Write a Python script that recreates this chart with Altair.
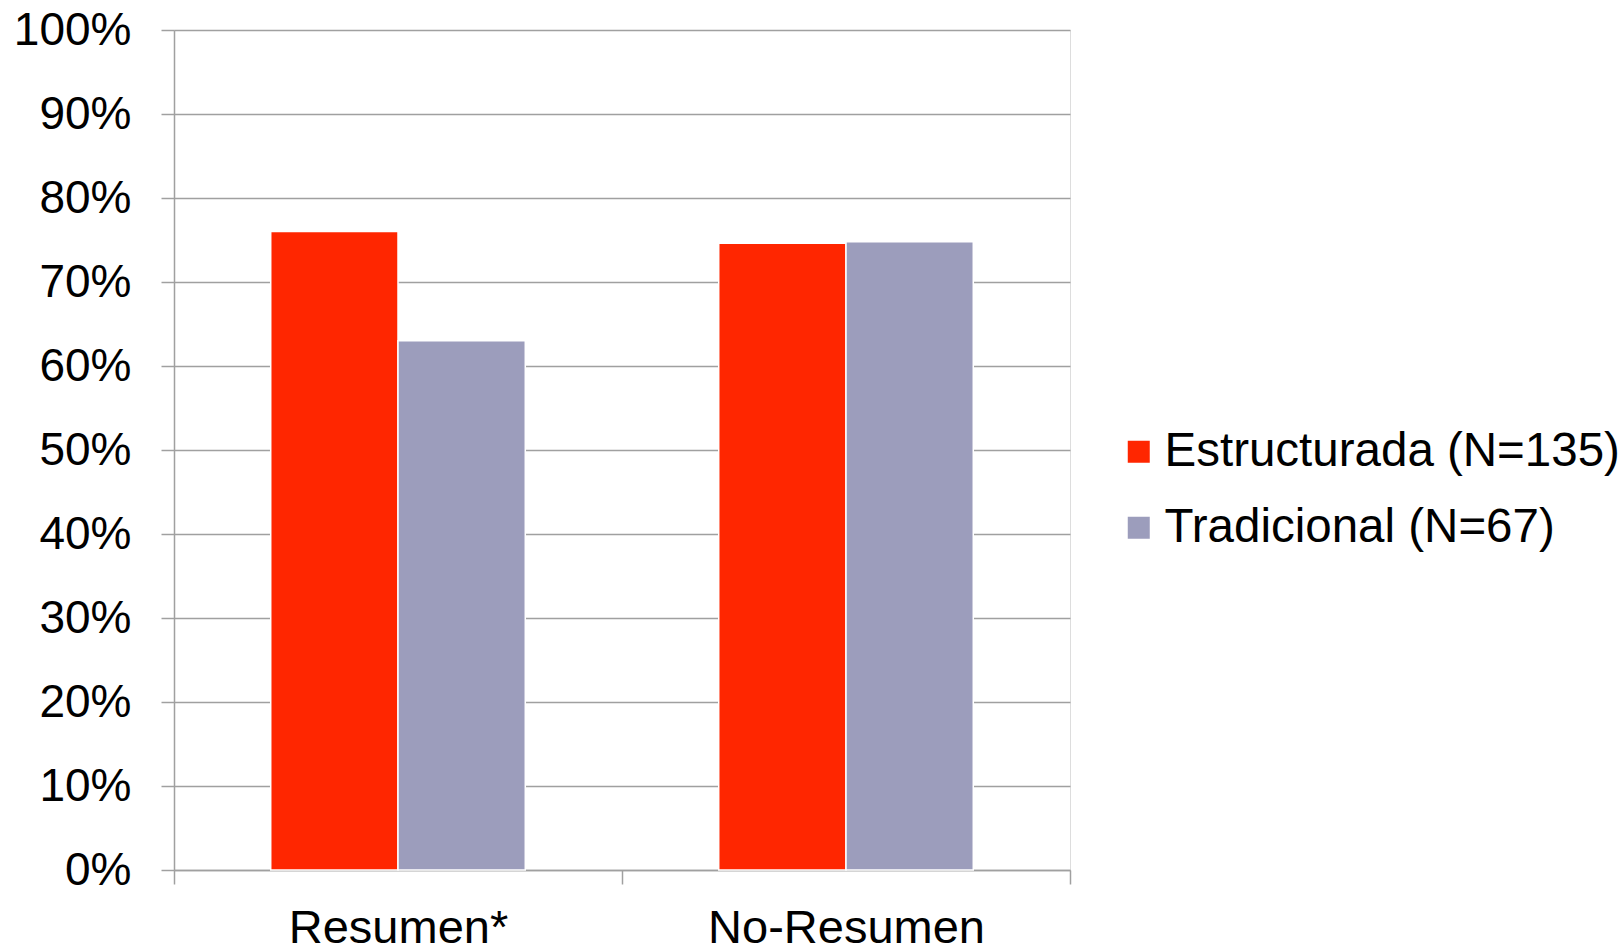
import altair as alt
import pandas as pd

categories = ["Resumen*", "No-Resumen"]
series = ["Estructurada (N=135)", "Tradicional (N=67)"]
estructurada = [0.76, 0.746]
tradicional = [0.63, 0.748]
colors = ["#ff2600", "#9c9dbc"]

rows = []
for i, c in enumerate(categories):
    rows.append({"cat": c, "serie": series[0], "val": estructurada[i]})
    rows.append({"cat": c, "serie": series[1], "val": tradicional[i]})
df = pd.DataFrame(rows)

FONT = "Liberation Sans"

chart = alt.Chart(df).mark_bar(stroke="white", strokeWidth=1.5).encode(
    x=alt.X("cat:N", sort=categories, title=None,
            scale=alt.Scale(paddingInner=0, paddingOuter=0),
            axis=alt.Axis(labelAngle=0, labelFontSize=47, labelFont=FONT, labelColor="black",
                          labelLimit=0,
                          tickBand="extent", tickSize=14, tickColor="#a0a0a0", tickWidth=1.5,
                          domainColor="#a0a0a0", domainWidth=1.5, labelPadding=21, grid=False)),
    xOffset=alt.XOffset("serie:N", sort=series,
                        scale=alt.Scale(paddingInner=0, paddingOuter=0.76)),
    y=alt.Y("val:Q", title=None,
            scale=alt.Scale(domain=[0, 1], nice=False),
            axis=alt.Axis(format=".0%", values=[i / 10 for i in range(11)],
                          labelFontSize=46, labelFont=FONT, labelColor="black",
                          labelPadding=30, tickSize=13, tickColor="#a0a0a0", tickWidth=1.5,
                          domainColor="#a0a0a0", domainWidth=1.5,
                          grid=True, gridColor="#a0a0a0", gridWidth=1.5)),
    color=alt.Color("serie:N", sort=series, title=None,
                    scale=alt.Scale(domain=series, range=colors),
                    legend=alt.Legend(orient="none", legendX=941, legendY=398,
                                      symbolType="square", symbolSize=484, symbolStrokeWidth=0,
                                      labelFontSize=47.5, labelFont=FONT, labelColor="black",
                                      labelOffset=2, rowPadding=27, labelLimit=0)),
).properties(
    width=896, height=840,
    autosize=alt.AutoSizeParams(type="none"),
    padding={"left": 174, "top": 30, "right": 554, "bottom": 80},
).configure_view(stroke=None).configure(background="white")

chart.save("out.html", embed_options={"renderer": "svg", "actions": False})
